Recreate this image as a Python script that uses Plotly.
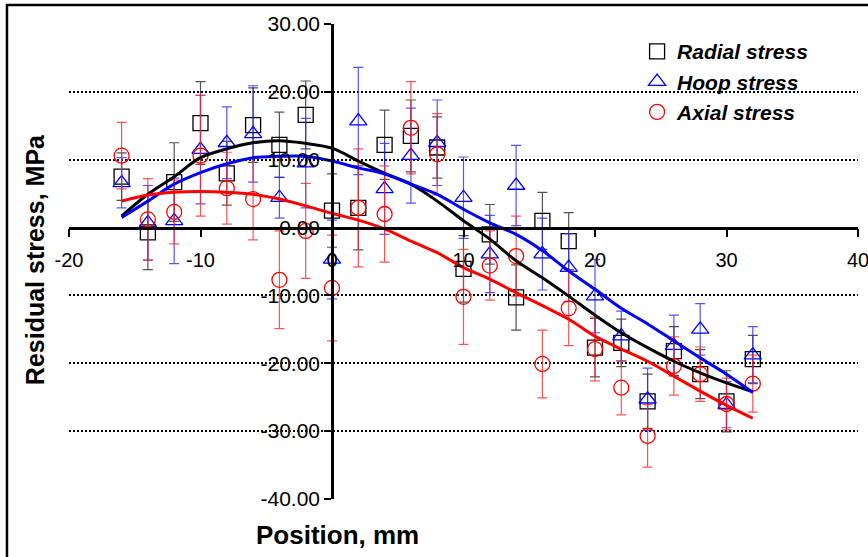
import plotly.graph_objects as go

position_mm = [-16, -14, -12, -10, -8, -6, -4, -2, 0, 2, 4, 6, 8, 10, 12, 14, 16, 18, 20, 22, 24, 26, 28, 30, 32]

radial = [7.5, -0.7, 6.7, 15.4, 8.0, 15.1, 12.2, 16.6, 2.5, 2.9, 12.2, 13.5, 11.8, -6.1, -1.0, -10.3, 1.0, -2.0, -17.7, -17.0, -25.6, -18.2, -21.6, -25.6, -19.4]
radial_err = [3.5, 5.5, 5.8, 6.1, 4.7, 5.5, 4.8, 5.0, 5.4, 6.2, 5.1, 5.3, 4.5, 4.9, 4.4, 4.8, 4.2, 4.2, 4.3, 3.5, 4.0, 3.6, 3.6, 4.5, 3.5]

hoop = [6.6, 0.7, 1.0, 11.5, 12.5, 13.8, 4.4, 9.5, -4.7, 15.7, 5.7, 10.6, 12.5, 4.4, -3.9, 6.2, -3.9, -5.9, -10.1, -16.0, -25.3, -17.4, -15.0, -26.1, -18.8]
hoop_err = [3.7, 5.5, 6.3, 8.0, 5.3, 7.1, 3.0, 6.6, 5.8, 7.9, 6.7, 7.0, 6.3, 6.0, 5.7, 5.9, 5.3, 5.0, 5.4, 3.7, 4.6, 4.5, 3.8, 3.4, 4.2]

axial = [10.6, 1.2, 2.3, 10.6, 5.8, 4.2, -7.7, -0.5, -8.9, 2.9, 2.0, 14.7, 10.8, -10.2, -5.6, -4.2, -20.1, -11.9, -17.9, -23.6, -30.7, -20.4, -21.6, -26.0, -23.0]
axial_err = [4.9, 6.0, 4.7, 8.9, 5.3, 6.0, 7.2, 7.0, 7.8, 8.7, 7.1, 6.8, 6.0, 7.0, 5.1, 5.9, 5.0, 5.5, 4.7, 4.0, 4.6, 4.3, 4.0, 3.8, 4.2]

radial_trend = [1.7, 4.9, 7.5, 10.3, 11.6, 12.5, 12.8, 12.4, 11.7, 9.8, 8.0, 6.4, 3.9, 1.0, -1.7, -4.9, -7.4, -10.1, -12.9, -15.5, -17.7, -19.7, -21.4, -22.9, -24.2]
hoop_trend = [1.5, 3.9, 6.4, 8.1, 9.4, 10.3, 10.5, 10.5, 9.8, 8.8, 7.9, 6.4, 4.9, 2.7, 0.7, -1.0, -3.4, -6.4, -9.1, -11.9, -14.2, -16.7, -19.2, -21.6, -24.3]
axial_trend = [3.9, 4.8, 5.2, 5.3, 5.2, 4.9, 4.2, 3.2, 2.1, 1.1, -0.2, -2.0, -3.7, -5.9, -7.6, -9.6, -11.5, -13.5, -16.0, -17.9, -19.7, -21.9, -24.1, -26.2, -28.1]

x_ticks = [-20, -10, 0, 10, 20, 30, 40]
y_ticks = [-40, -30, -20, -10, 0, 10, 20, 30]

FONT = "Liberation Sans, Arial, sans-serif"

fig = go.Figure()

series = [
    ("Radial stress", radial, radial_err, "square-open", "#000000", "rgba(40,40,40,0.8)"),
    ("Hoop stress", hoop, hoop_err, "triangle-up-open", "#0000FF", "rgba(40,40,255,0.8)"),
    ("Axial stress", axial, axial_err, "circle-open", "#FF0000", "rgba(255,40,40,0.8)"),
]
for name, vals, errs, sym, col, ecol in series:
    fig.add_trace(go.Scatter(
        x=position_mm, y=vals, mode="markers", name=name,
        marker=dict(symbol=sym, size=15, color=col, line=dict(color=col, width=1.3)),
        error_y=dict(type="data", array=errs, visible=True, color=ecol, thickness=1.2, width=5),
    ))

for vals, col in [(radial_trend, "#000000"), (hoop_trend, "#0000FF"), (axial_trend, "#FF0000")]:
    fig.add_trace(go.Scatter(
        x=position_mm, y=vals, mode="lines", showlegend=False, hoverinfo="skip",
        line=dict(color=col, width=3, shape="spline"),
    ))

fig.update_layout(
    width=868, height=557,
    margin=dict(l=69, r=10, t=24, b=58),
    paper_bgcolor="white", plot_bgcolor="white",
    font=dict(family=FONT, color="black", size=16),
    legend=dict(
        x=0.72, y=0.985, xanchor="left", yanchor="top",
        bgcolor="rgba(0,0,0,0)",
        font=dict(family=FONT, size=21, weight="bold", style="italic", color="black"),
        itemwidth=30,
    ),
    xaxis=dict(
        range=[-20, 40], tickvals=x_ticks, ticktext=[str(v) for v in x_ticks],
        anchor="free", position=40 / 70, automargin=False,
        showline=True, linecolor="black", linewidth=2.5,
        ticks="outside", ticklen=8, tickwidth=2, tickcolor="black",
        ticklabelstandoff=6, ticklabeloverflow="allow",
        showgrid=False, zeroline=False,
        tickfont=dict(family=FONT, size=20, color="black"),
    ),
    yaxis=dict(
        range=[-40, 30], tickvals=y_ticks, ticktext=["%.2f" % v for v in y_ticks],
        anchor="free", position=1 / 3, automargin=False,
        showline=True, linecolor="black", linewidth=2.5,
        ticks="outside", ticklen=7, tickwidth=2, tickcolor="black",
        ticklabeloverflow="allow",
        showgrid=True, gridcolor="black", gridwidth=2, griddash="2px,2px",
        zeroline=False,
        tickfont=dict(family=FONT, size=21, color="black"),
    ),
    annotations=[
        dict(text="<b>Residual stress, MPa</b>", xref="paper", yref="paper",
             x=-0.043, y=0.503, xanchor="center", yanchor="middle",
             textangle=-90, showarrow=False,
             font=dict(family=FONT, size=25, color="black")),
        dict(text="<b>Position, mm</b>", xref="paper", yref="paper",
             x=0.34, y=-0.076, xanchor="center", yanchor="middle", showarrow=False,
             font=dict(family=FONT, size=26, color="black")),
    ],
    shapes=[
        dict(type="rect", xref="paper", yref="paper",
             x0=-0.0786, x1=1.03, y0=-0.2, y1=1.04,
             line=dict(color="black", width=2.5), fillcolor="rgba(0,0,0,0)", layer="below"),
    ],
)

fig.write_html(
    "out.html",
    config={"displayModeBar": False},
    post_script="document.body.style.margin='0';document.body.style.padding='0';",
)
